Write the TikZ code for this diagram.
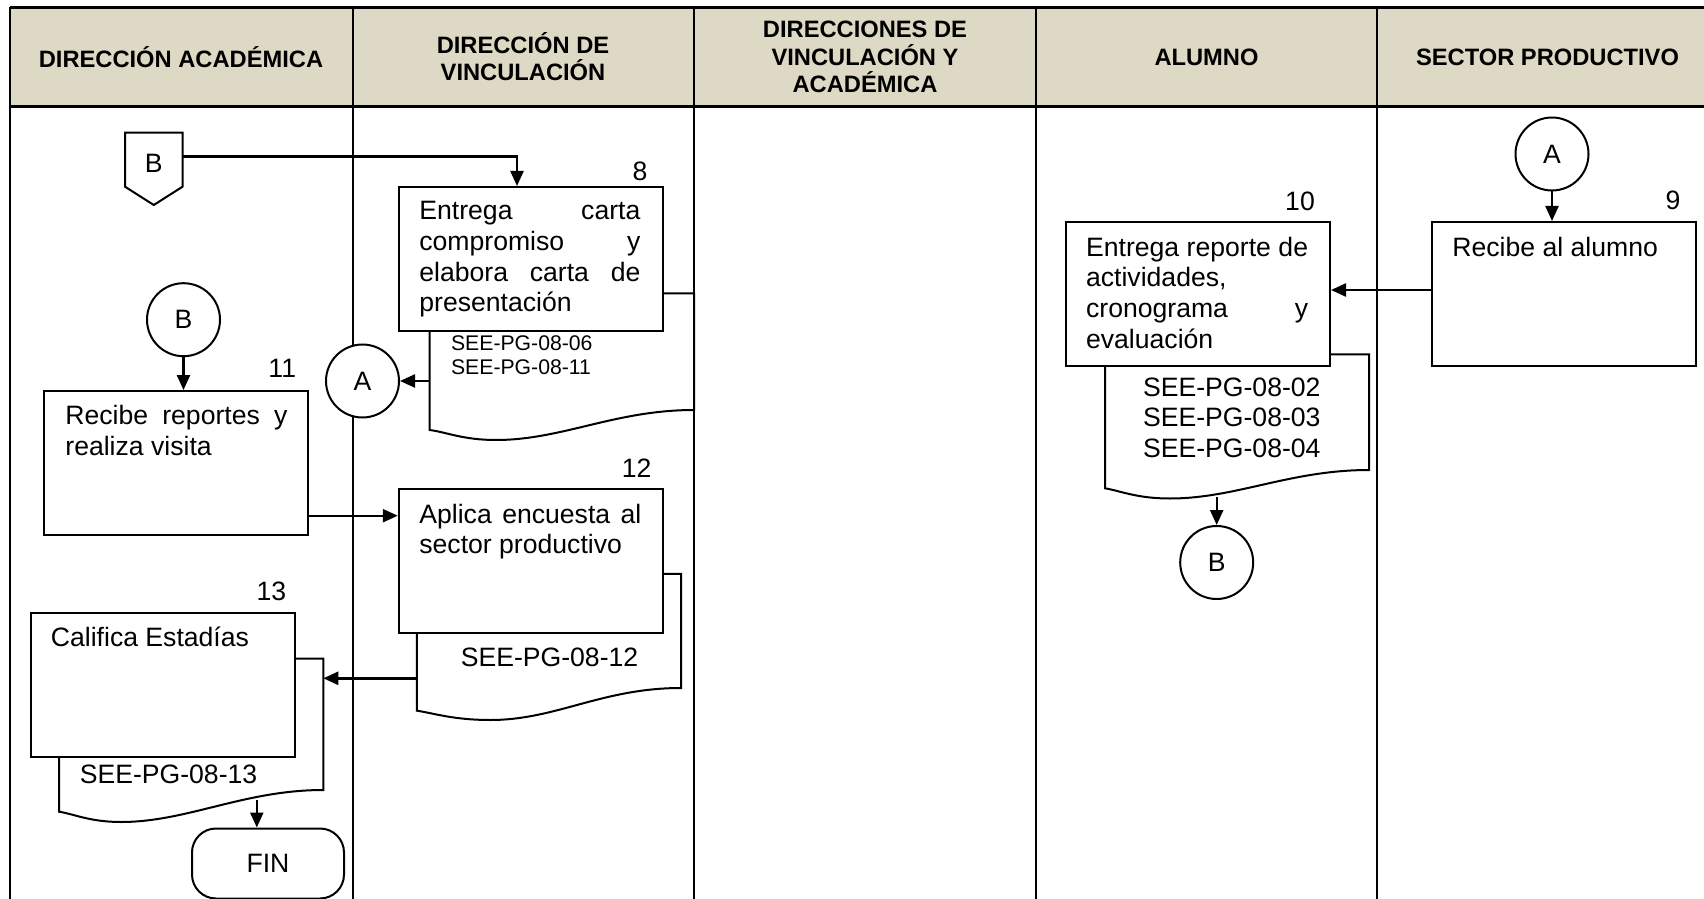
\documentclass[tikz,border=0pt]{standalone}
\usepackage{fontspec}
\setmainfont{Liberation Sans}
\usetikzlibrary{arrows.meta,calc}
\definecolor{hdrfill}{RGB}{221,217,196}
\newcommand\fbody{\fontsize{13.3pt}{15.3pt}\selectfont}
\newcommand\fhdr{\fontsize{11.85pt}{13.6pt}\selectfont\bfseries}
\newcommand\fsmall{\fontsize{10.6pt}{12pt}\selectfont}
\tikzset{
  tline/.style={line width=1.2pt},
  hline/.style={line width=1.5pt},
  procbox/.style={draw, line width=1pt, fill=white, inner sep=0pt, anchor=north west,
                  minimum width=132pt, minimum height=72pt},
  docsh/.style={draw, line width=1pt, fill=white},
  conn/.style={draw, circle, line width=1pt, fill=white, inner sep=0pt, minimum size=36.5pt, font=\fbody},
  arr/.style={line width=1.2pt, -{Triangle[length=7.5pt,width=6.5pt]}},
  hdrtxt/.style={font=\fhdr, align=center, inner sep=0pt},
  btxt/.style={font=\fbody, inner sep=0pt, anchor=base west},
  ctxt/.style={font=\fbody, inner sep=0pt, anchor=base},
  numtxt/.style={font=\fbody, inner sep=0pt, anchor=center},
  stxt/.style={font=\fsmall, inner sep=0pt, anchor=base west}
}
\begin{document}
\begin{tikzpicture}[x=0.5pt,y=-0.5pt]
\path[use as bounding box, fill=white] (0,0) rectangle (1704,899);
\clip (0,0) rectangle (1704,899);

% header
\fill[hdrfill] (10,7.3) rectangle (1720,106.7);
\draw[hline] (10,7.3) -- (1720,7.3);
\draw[hline] (10,106.7) -- (1720,106.7);
\draw[tline] (10,7.3) -- (10,910);
\draw[tline] (352.7,7.3) -- (352.7,910);
\draw[tline] (694,7.3) -- (694,910);
\draw[tline] (1036,7.3) -- (1036,910);
\draw[tline] (1377,7.3) -- (1377,910);

\node[hdrtxt] (h1) at (181,57) {DIRECCIÓN ACADÉMICA};
\node[hdrtxt] (h2) at (523,57) {DIRECCIÓN DE\\VINCULACIÓN};
\node[hdrtxt] (h3) at (865,57) {DIRECCIONES DE\\VINCULACIÓN Y\\ACADÉMICA};
\node[hdrtxt] (h4) at (1206.5,57) {ALUMNO};
\node[hdrtxt] (h5) at (1547.5,57) {SECTOR PRODUCTIVO};

% documents (behind boxes)
\draw[docsh] (661.5,293.3) -- (694,293.3) -- (694,410)
  .. controls (615,410) and (562,440) .. (496,440)
  .. controls (463,440) and (446,432) .. (429.6,430) -- (429.6,293.3) -- cycle;
\draw[docsh] (661.5,573.8) -- (681,573.8) -- (681,688)
  .. controls (602,688) and (556,720) .. (490.5,720)
  .. controls (453,720) and (433,713) .. (416.8,710.7) -- (416.8,573.8) -- cycle;
\draw[docsh] (293.9,658.7) -- (323.3,658.7) -- (323.3,790)
  .. controls (244,790) and (187,822) .. (121,822)
  .. controls (90,822) and (74,814) .. (59,811.7) -- (59,658.7) -- cycle;
\draw[docsh] (1329,354.3) -- (1369,354.3) -- (1369,470)
  .. controls (1290,470) and (1236,498.5) .. (1170,498.5)
  .. controls (1137,498.5) and (1121,491) .. (1105,488.3) -- (1105,354.3) -- cycle;

% process boxes
\node[procbox] (box8) at (398,186) {};
\node[procbox] (box11) at (43.4,390) {};
\node[procbox] (box12) at (397.8,488.3) {};
\node[procbox] (box13) at (29.5,611.7) {};
\node[procbox] (box10) at (1065,221) {};
\node[procbox] (box9) at (1431,221) {};
\node[draw, line width=1pt, fill=white, rounded corners=12pt, inner sep=0pt, anchor=north west,
      minimum width=76pt, minimum height=35pt, font=\fbody] (fin) at (191,827.5) {FIN};

% off-page connector B
\draw[line width=1pt, fill=white] (125,132.7) -- (182.5,132.7) -- (182.5,186.7) -- (153.8,205) -- (125,186.7) -- cycle;
\node[numtxt] (offB) at (153.8,163) {B};
\coordinate (pB) at (182.5,156.7);
\coordinate (b8in) at (517,186);

% circle connectors
\node[conn] (cB1) at (183.5,319.7) {B};
\node[conn] (cA1) at (362.5,381) {A};
\node[conn] (cA2) at (1552,154) {A};
\node[conn] (cB2) at (1216.7,562.5) {B};

% connection points
\coordinate (d8l) at (429.6,381);
\coordinate (r1) at (0,515.7);
\coordinate (d12l) at (416.8,678.3);
\coordinate (d13r) at (323.3,678.3);
\coordinate (d13b) at (256.8,800);
\coordinate (r2) at (0,290);
\coordinate (d10b) at (1216.7,497);

% connectors
\draw[arr] (pB) -| (b8in);
\draw[arr] (cB1.south) -- (cB1.south |- box11.north);
\draw[arr] (d8l) -- (cA1.east);
\draw[arr] (box11.east |- r1) -- (box12.west |- r1);
\draw[arr] (d12l) -- (d13r);
\draw[arr] (d13b) -- (d13b |- fin.north);
\draw[arr] (cA2.south) -- (cA2.south |- box9.north);
\draw[arr] (box9.west |- r2) -- (box10.east |- r2);
\draw[arr] (d10b) -- (cB2.north);

% numbers
\node[numtxt] (n8) at (640,171.7) {8};
\node[numtxt] (n11) at (282.3,368.3) {11};
\node[numtxt] (n12) at (636.6,468.3) {12};
\node[numtxt] (n13) at (271.5,591.7) {13};
\node[numtxt] (n10) at (1300,201.7) {10};
\node[numtxt] (n9) at (1673,200) {9};

% box texts
\node[btxt] (t8a) at (419,220) {\makebox[110.5pt][s]{Entrega carta}};
\node[btxt] (t8b) at (419,250.7) {\makebox[110.5pt][s]{compromiso y}};
\node[btxt] (t8c) at (419,281.7) {\makebox[110.5pt][s]{elabora carta de}};
\node[btxt] (t8d) at (419,311.7) {presentación};
\node[stxt] (s8a) at (450.7,350) {SEE-PG-08-06};
\node[stxt] (s8b) at (450.7,374) {SEE-PG-08-11};

\node[btxt] (t11a) at (65,424.5) {\makebox[111pt][s]{Recibe reportes y}};
\node[btxt] (t11b) at (65,455) {realiza visita};

\node[btxt] (t12a) at (419,523.3) {\makebox[111pt][s]{Aplica encuesta al}};
\node[btxt] (t12b) at (419,553.3) {sector productivo};
\node[ctxt] (s12) at (549.5,666.7) {SEE-PG-08-12};

\node[btxt] (t13) at (50.5,646.7) {Califica Estadías};
\node[ctxt] (s13) at (168.5,783.3) {SEE-PG-08-13};

\node[btxt] (t10a) at (1085.7,256.7) {\makebox[111pt][s]{Entrega reporte de}};
\node[btxt] (t10b) at (1085.7,286.7) {actividades,};
\node[btxt] (t10c) at (1085.7,317) {\makebox[111pt][s]{cronograma y}};
\node[btxt] (t10d) at (1085.7,348) {evaluación};
\node[btxt] (s10a) at (1142.7,396.7) {SEE-PG-08-02};
\node[btxt] (s10b) at (1142.7,426.7) {SEE-PG-08-03};
\node[btxt] (s10c) at (1142.7,457.3) {SEE-PG-08-04};

\node[btxt] (t9) at (1452,256.7) {Recibe al alumno};
\end{tikzpicture}
\end{document}
